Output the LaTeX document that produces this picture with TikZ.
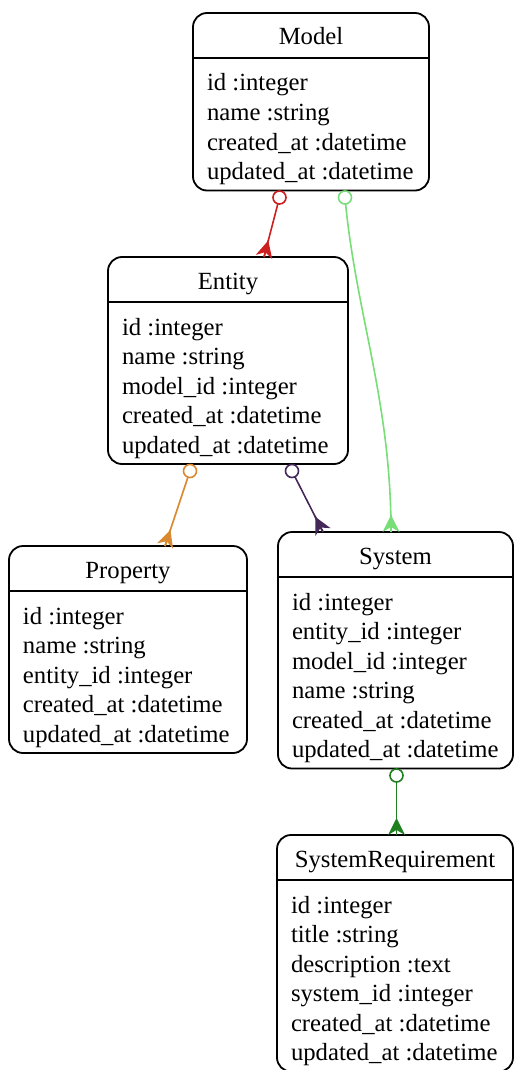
\documentclass[tikz,border=0pt]{standalone}
\usepackage{fontspec}
\setmainfont{Liberation Serif}
\usetikzlibrary{calc}
\definecolor{cred}{HTML}{CC1F1F}
\definecolor{clgreen}{HTML}{78DE78}
\definecolor{corange}{HTML}{D98A30}
\definecolor{cpurple}{HTML}{45285A}
\definecolor{cdgreen}{HTML}{1E801E}
\tikzset{
  erframe/.style={draw, line width=1.8pt, rounded corners=14pt, inner sep=0pt, outer sep=0pt, anchor=north west},
  erline/.style={line width=1.8pt},
  ertext/.style={inner sep=0pt, outer sep=0pt},
  rel/.style={line width=1.6pt},
}
\newcommand\erbox[7]{%
  \pgfmathsetmacro\boxh{89+29.5*(#5-1)}%
  \node[erframe, minimum width=#4pt, minimum height=\boxh pt] (#1) at (#2,-#3) {};
  \draw[erline] ([yshift=-45pt]#1.north west) -- ([yshift=-45pt]#1.north east);
  \node[ertext, anchor=base] (#1-title) at ([yshift=-32pt]#1.north) {#6};
  \foreach \r [count=\i from 0] in {#7}
    \node[ertext, anchor=base west] (#1-r\i) at ([xshift=14pt,yshift={-(78+29.5*\i)*1pt}]#1.north west) {\r};
}
% #1 direction point (away from box), #2 end point on box, #3 colour
\newcommand\crowfoot[3]{%
  \fill[#3] ($(#2)!17pt!(#1)$) -- ($(#2)!8.5pt!90:(#1)$) -- ($(#2)!5pt!(#1)$) -- ($(#2)!8.5pt!-90:(#1)$) -- cycle;
  \draw[rel,#3] ($(#2)!17pt!(#1)$) -- (#2);
}
\begin{document}
\begin{tikzpicture}[x=1pt,y=1pt,font=\fontsize{24.7}{29}\selectfont]
\useasboundingbox (0,0) rectangle (514,-1070);
\erbox{model}{193}{13}{236}{4}{Model}{id :integer,name :string,created\_at :datetime,updated\_at :datetime}
\erbox{entity}{108}{257}{240}{5}{Entity}{id :integer,name :string,model\_id :integer,created\_at :datetime,updated\_at :datetime}
\erbox{property}{9}{546}{238}{5}{Property}{id :integer,name :string,entity\_id :integer,created\_at :datetime,updated\_at :datetime}
\erbox{system}{278}{532}{235}{6}{System}{id :integer,entity\_id :integer,model\_id :integer,name :string,created\_at :datetime,updated\_at :datetime}
\erbox{sysreq}{277}{835}{236}{6}{SystemRequirement}{id :integer,title :string,description :text,system\_id :integer,created\_at :datetime,updated\_at :datetime}

% Model -> Entity
\coordinate (c1) at ($(model.south west)+(86.5,-7)$);
\coordinate (e1) at ($(entity.north west)+(156,0)$);
\draw[rel,cred] (c1) circle (6.5pt);
\draw[rel,cred] ($(c1)!6.5pt!(e1)$) -- (e1);
\crowfoot{c1}{e1}{cred}

% Model -> System
\coordinate (c2) at ($(model.south west)+(152,-7)$);
\coordinate (e2) at ($(system.north west)+(113,0)$);
\coordinate (e2up) at ($(e2)+(0,40)$);
\draw[rel,clgreen] (c2) circle (6.5pt);
\draw[rel,clgreen] ($(c2)+(0.6,-6.5)$) .. controls ($(c2)+(12,-120)$) and ($(e2)+(0,130)$) .. (e2);
\crowfoot{e2up}{e2}{clgreen}

% Entity -> Property
\coordinate (c3) at ($(entity.south west)+(82,-7)$);
\coordinate (e3) at ($(property.north west)+(156,0)$);
\draw[rel,corange] (c3) circle (6.5pt);
\draw[rel,corange] ($(c3)!6.5pt!(e3)$) -- (e3);
\crowfoot{c3}{e3}{corange}

% Entity -> System
\coordinate (c4) at ($(entity.south west)+(184,-7)$);
\coordinate (e4) at ($(system.north west)+(45,0)$);
\draw[rel,cpurple] (c4) circle (6.5pt);
\draw[rel,cpurple] ($(c4)!6.5pt!(e4)$) -- (e4);
\crowfoot{c4}{e4}{cpurple}

% System -> SystemRequirement
\coordinate (c5) at ($(system.south west)+(118.5,-7)$);
\coordinate (e5) at ($(sysreq.north west)+(119.5,0)$);
\draw[rel,cdgreen] (c5) circle (6.5pt);
\draw[rel,cdgreen] ($(c5)!6.5pt!(e5)$) -- (e5);
\crowfoot{c5}{e5}{cdgreen}
\end{tikzpicture}
\end{document}
